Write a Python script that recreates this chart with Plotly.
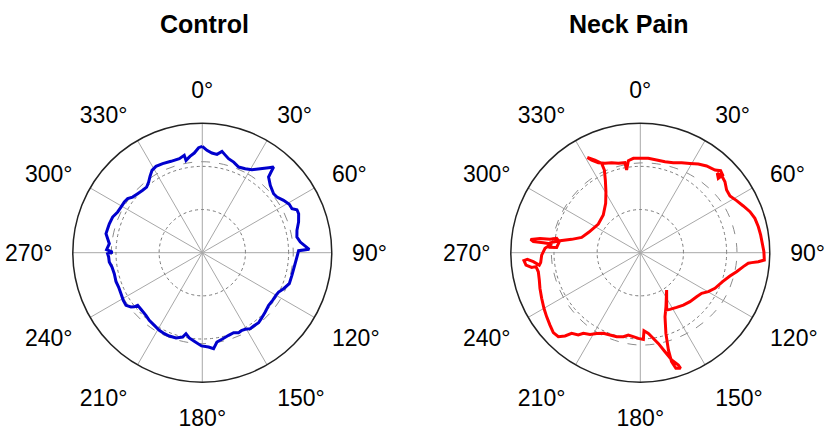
import plotly.graph_objects as go

# ---------------- data ----------------
angle_ticks = [0, 30, 60, 90, 120, 150, 180, 210, 240, 270, 300, 330]
angle_labels = ["0°", "30°", "60°", "90°", "120°", "150°", "180°", "210°", "240°", "270°", "300°", "330°"]
radial_grid = [0.5, 1.0]
radial_max = 1.5

control_theta = [0, 2.6, 5.5, 8.5, 11.0, 12.8, 15.6, 19.1, 23.0, 27.1, 30.9, 34.6, 38.0, 39.8, 40.4, 41.2,
                 45.3, 50.4, 53.3, 57.2, 60.9, 63.9, 65.6, 68.0, 72.3, 76.7, 80.6, 83.8, 88.2, 88.8,
                 92.6, 97.8, 104.2, 109.6, 113.9, 117.3, 120.1, 124.1, 128.4, 133.3, 138.2, 141.2,
                 145.0, 147.7, 150.7, 152.9, 155.6, 158.6, 162.3, 167.2, 170.7, 173.3, 176.2, 180.5,
                 185.2, 188.7, 191.4, 193.1, 197.1, 201.6, 205.1, 209.0, 213.4, 218.1, 222.0, 227.3,
                 230.8, 231.5, 232.7, 235.4, 238.9, 243.2, 247.7, 251.6, 256.6, 261.0, 264.3, 267.4,
                 269.4, 270.3, 271.8, 275.5, 278.4, 281.2, 284.2, 287.3, 291.7, 295.7, 299.3, 303.0,
                 305.9, 308.6, 312.4, 316.3, 319.7, 322.8, 325.6, 328.6, 331.8, 336.0, 341.1, 346.3,
                 349.5, 350.0, 352.7, 355.4, 358.0, 360]
control_r = [1.232, 1.187, 1.160, 1.152, 1.196, 1.168, 1.131, 1.111, 1.078, 1.093, 1.120, 1.182, 1.249,
             1.291, 1.231, 1.166, 1.108, 1.072, 1.079, 1.120, 1.153, 1.157, 1.204, 1.204, 1.171, 1.127,
             1.111, 1.142, 1.240, 1.116, 1.098, 1.080, 1.071, 1.070, 1.030, 0.995, 0.986, 0.984, 0.981,
             1.002, 1.025, 1.041, 1.037, 1.041, 1.018, 1.010, 1.018, 0.995, 1.005, 1.029, 1.049, 1.120,
             1.095, 1.080, 1.031, 1.000, 0.957, 1.003, 1.034, 1.038, 1.036, 1.028, 1.009, 0.996, 0.976,
             0.967, 0.966, 1.007, 1.039, 1.074, 1.069, 1.055, 1.048, 1.054, 1.048, 1.059, 1.083, 1.086,
             1.097, 1.040, 1.109, 1.082, 1.108, 1.137, 1.131, 1.128, 1.118, 1.088, 1.080, 1.077, 1.067,
             1.033, 1.014, 1.000, 0.997, 1.028, 1.072, 1.118, 1.135, 1.129, 1.119, 1.121, 1.147, 1.086,
             1.125, 1.158, 1.217, 1.232]

neck_theta = [330.9, 332.3, 335.0, 338.4, 342.3, 346.2, 350.3, 350.6, 352.6, 355.8, 359.8, 364.8, 370.0,
              375.2, 380.1, 384.7, 389.1, 393.2, 397.4, 402.1, 404.4, 406.7, 406.4, 404.1, 406.8, 410.0,
              414.0, 417.7, 421.6, 425.6, 429.5, 433.3, 437.6, 441.6, 445.6, 449.5, 453.4, 454.4, 455.1,
              455.6, 457.7, 461.2, 464.6, 469.4, 475.5, 479.8, 483.5, 488.0, 494.6, 500.6, 506.4, 512.4,
              515.3, 504.8, 514.6, 518.9, 522.4, 523.9, 524.0, 522.9, 520.8, 521.3, 523.7, 526.0, 528.8,
              532.3, 534.3, 537.3, 538.0, 541.3, 544.8, 548.3, 551.4, 555.7, 560.2, 564.6, 568.4, 571.6,
              575.2, 577.0, 580.4, 582.1, 584.3, 587.4, 591.3, 595.7, 600.0, 605.2, 610.4, 614.9, 619.4,
              622.4, 622.3, 623.8, 626.1, 626.6, 625.2, 623.0, 624.3, 628.6, 632.6, 635.6, 635.9, 635.9,
              636.9, 638.1, 638.4, 639.7, 637.7, 633.6, 633.4, 636.4, 638.5, 641.0, 644.6, 651.9, 664.3,
              675.5, 684.9, 690.6, 694.3, 696.5, 696.6, 693.9, 690.9]
neck_r = [1.263, 1.212, 1.150, 1.113, 1.094, 1.066, 1.058, 0.971, 1.075, 1.096, 1.093, 1.097, 1.090,
          1.092, 1.110, 1.147, 1.184, 1.227, 1.264, 1.290, 1.330, 1.311, 1.248, 1.281, 1.297, 1.280,
          1.236, 1.229, 1.268, 1.310, 1.356, 1.386, 1.400, 1.409, 1.417, 1.432, 1.439, 1.371, 1.295,
          1.257, 1.204, 1.137, 1.073, 1.011, 0.958, 0.908, 0.852, 0.828, 0.808, 0.785, 0.760, 0.741,
          0.731, 0.529, 0.693, 0.795, 0.981, 1.173, 1.314, 1.402, 1.419, 1.374, 1.295, 1.182, 1.071,
          0.982, 0.939, 0.905, 1.005, 0.993, 0.976, 0.964, 0.993, 1.011, 1.016, 1.028, 1.063, 1.111,
          1.144, 1.194, 1.227, 1.301, 1.360, 1.369, 1.341, 1.314, 1.289, 1.259, 1.234, 1.212, 1.202,
          1.219, 1.270, 1.332, 1.351, 1.311, 1.244, 1.179, 1.160, 1.143, 1.105, 1.032, 1.129, 1.246,
          1.280, 1.174, 1.058, 0.983, 0.947, 0.971, 1.048, 1.045, 0.941, 0.810, 0.702, 0.640, 0.589,
          0.612, 0.698, 0.811, 0.934, 1.044, 1.127, 1.195, 1.263]

ref_theta = [0, 30, 60, 90, 120, 150, 180, 210, 240, 270, 300, 330, 360]
control_ref_r = [1.054, 1.054, 1.054, 1.054, 1.054, 1.054, 1.054, 1.054, 1.054, 1.054, 1.054, 1.054, 1.054]
neck_ref_r = [1.04, 1.07, 1.11, 1.12, 1.11, 1.08, 1.07, 1.05, 1.03, 1.03, 1.02, 1.03, 1.04]

titles = ["Control", "Neck Pain"]

# ---------------- figure ----------------
FONT = "Liberation Sans, Arial, sans-serif"
fig = go.Figure()

fig.add_trace(go.Scatterpolar(r=control_ref_r, theta=ref_theta, mode="lines", subplot="polar",
                              line=dict(color="#8c8c8c", width=1, dash="dash", shape="spline"),
                              hoverinfo="skip", showlegend=False))
fig.add_trace(go.Scatterpolar(r=control_r, theta=control_theta, mode="lines", subplot="polar",
                              line=dict(color="rgb(0,0,205)", width=3), showlegend=False))
fig.add_trace(go.Scatterpolar(r=neck_ref_r, theta=ref_theta, mode="lines", subplot="polar2",
                              line=dict(color="#8c8c8c", width=1, dash="dash", shape="spline"),
                              hoverinfo="skip", showlegend=False))
fig.add_trace(go.Scatterpolar(r=neck_r, theta=neck_theta, mode="lines", subplot="polar2",
                              line=dict(color="rgb(255,0,0)", width=3), showlegend=False))


def polar_layout(xdom):
    return dict(
        domain=dict(x=xdom, y=[0.1112, 0.7135]),
        bgcolor="white",
        radialaxis=dict(range=[0, radial_max], tickvals=radial_grid, showticklabels=False,
                        ticks="", showline=False, gridcolor="#7a7a7a", griddash="dot", gridwidth=1),
        angularaxis=dict(rotation=90, direction="clockwise", tickmode="array",
                         tickvals=angle_ticks, ticktext=angle_labels,
                         ticks="outside", ticklen=15, tickcolor="rgba(0,0,0,0)",
                         showline=True, linecolor="#222222", linewidth=1.5,
                         gridcolor="#a8a8a8", gridwidth=1,
                         tickfont=dict(family=FONT, size=23, color="black")),
    )


fig.update_layout(
    width=834, height=430,
    margin=dict(l=0, r=0, t=0, b=0),
    paper_bgcolor="white",
    polar=polar_layout([0.0873, 0.3978]),
    polar2=polar_layout([0.6125, 0.9230]),
    annotations=[
        dict(text="<b>%s</b>" % titles[0], x=204 / 834, y=1 - 24 / 430, xref="paper", yref="paper",
             xanchor="center", yanchor="middle", showarrow=False,
             font=dict(family=FONT, size=25, color="black")),
        dict(text="<b>%s</b>" % titles[1], x=629 / 834, y=1 - 24 / 430, xref="paper", yref="paper",
             xanchor="center", yanchor="middle", showarrow=False,
             font=dict(family=FONT, size=25, color="black")),
    ],
)

fig.write_html("out.html", config={"displayModeBar": False},
               post_script="document.body.style.margin='0';document.body.style.overflow='hidden';")
